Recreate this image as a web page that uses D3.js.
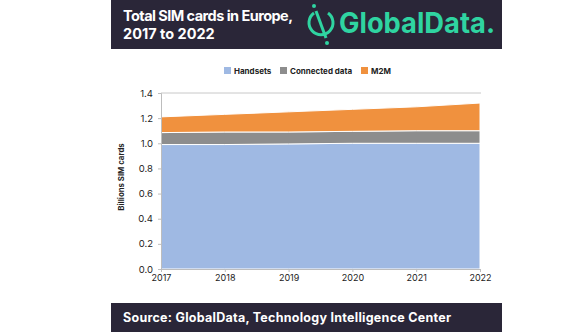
<!DOCTYPE html>
<html><head><meta charset="utf-8">
<script src="https://cdn.jsdelivr.net/npm/d3@7"></script>
<style>body{margin:0;background:#fff}svg{display:block}</style>
</head><body>
<svg id="c" width="580" height="332"></svg>
<script>
const years = [2017, 2018, 2019, 2020, 2021, 2022];
const handsets = [0.99, 0.99, 0.995, 1.0, 1.0, 1.0];
const connectedData = [0.095, 0.10, 0.095, 0.095, 0.10, 0.10];
const m2m = [0.125, 0.14, 0.16, 0.175, 0.19, 0.22];
const seriesNames = ["Handsets", "Connected data", "M2M"];
const colors = ["#9fb9e3", "#8d8d8d", "#f0913e"];
const yTicks = [0, 0.2, 0.4, 0.6, 0.8, 1.0, 1.2, 1.4];

const svg = d3.select("#c");
const font = "Inter, 'Open Sans', sans-serif";

// header
svg.append("rect").attr("x",111).attr("y",0).attr("width",391).attr("height",49).attr("fill","#2a2638");
svg.append("text").attr("x",123).attr("y",21).attr("fill","#fff").attr("font-family",font).attr("font-weight","bold").attr("font-size",14.5).attr("textLength",170).text("Total SIM cards in Europe,");
svg.append("text").attr("x",123).attr("y",39).attr("fill","#fff").attr("font-family",font).attr("font-weight","bold").attr("font-size",14.5).text("2017 to 2022");
// logo
const lg = svg.append("g").attr("stroke","#2fd4a1").attr("fill","none").attr("stroke-width",3);
lg.append("path").attr("d","M 314 13 A 12 12 0 1 0 328 13");
lg.append("line").attr("x1",316).attr("y1",11).attr("x2",326).attr("y2",38);
svg.append("circle").attr("cx",314).attr("cy",6).attr("r",2).attr("fill","#2fd4a1");
svg.append("circle").attr("cx",327).attr("cy",43).attr("r",2).attr("fill","#2fd4a1");
svg.append("text").attr("x",339).attr("y",33).attr("fill","#2fd4a1").attr("font-family",font).attr("font-weight","bold").attr("font-size",29).attr("textLength",156).attr("lengthAdjust","spacingAndGlyphs").text("GlobalData.");

// footer
svg.append("rect").attr("x",111).attr("y",303).attr("width",391).attr("height",29).attr("fill","#2a2638");
svg.append("text").attr("x",123).attr("y",322).attr("fill","#fff").attr("font-family",font).attr("font-weight","bold").attr("font-size",12.5).attr("textLength",328).text("Source: GlobalData, Technology Intelligence Center");

// chart
const x = d3.scaleLinear().domain([2017, 2022]).range([161, 480]);
const y = d3.scaleLinear().domain([0, 1.4]).range([269, 93]);

const table = years.map((yr,i)=>({year:yr, "Handsets":handsets[i], "Connected data":connectedData[i], "M2M":m2m[i]}));
const stacked = d3.stack().keys(seriesNames)(table);

// top gridline
svg.append("line").attr("x1",161).attr("x2",481).attr("y1",y(1.4)).attr("y2",y(1.4)).attr("stroke","#c8c8c8");

const area = d3.area().x(d=>x(d.data.year)).y0(d=>y(d[0])).y1(d=>y(d[1]));
svg.append("g").selectAll("path").data(stacked).join("path")
  .attr("d", area).attr("fill",(d,i)=>colors[i]).attr("stroke","#fff").attr("stroke-width",1);

// y axis
const ya = svg.append("g").attr("transform","translate(161,0)")
  .call(d3.axisLeft(y).tickValues(yTicks).tickFormat(d3.format(".1f")).tickSize(3).tickPadding(5));
ya.select(".domain").attr("stroke","#bdbdbd");
ya.selectAll(".tick line").attr("stroke","#bdbdbd");
ya.selectAll("text").attr("font-family",font).attr("font-size",9.5).attr("fill","#222");

const xa = svg.append("g").attr("transform","translate(0,269)")
  .call(d3.axisBottom(x).tickValues(years).tickFormat(d3.format("d")).tickSize(3).tickPadding(3));
xa.select(".domain").attr("stroke","#bdbdbd");
xa.selectAll(".tick line").attr("stroke","#bdbdbd");
xa.selectAll("text").attr("font-family",font).attr("font-size",9).attr("fill","#222");

svg.append("text").attr("transform","translate(124,177) rotate(-90)").attr("text-anchor","middle")
  .attr("font-family",font).attr("font-weight","bold").attr("font-size",7.8).attr("fill","#222").text("Billions SIM cards");

// legend
const legX = [224, 280, 361];
const lgd = svg.append("g");
seriesNames.forEach((n,i)=>{
  lgd.append("rect").attr("x",legX[i]).attr("y",67).attr("width",7).attr("height",7).attr("fill",colors[i]);
  lgd.append("text").attr("x",legX[i]+10).attr("y",74).attr("font-family",font).attr("font-weight","bold").attr("font-size",8).attr("fill","#222").text(n);
});
</script>
</body></html>
